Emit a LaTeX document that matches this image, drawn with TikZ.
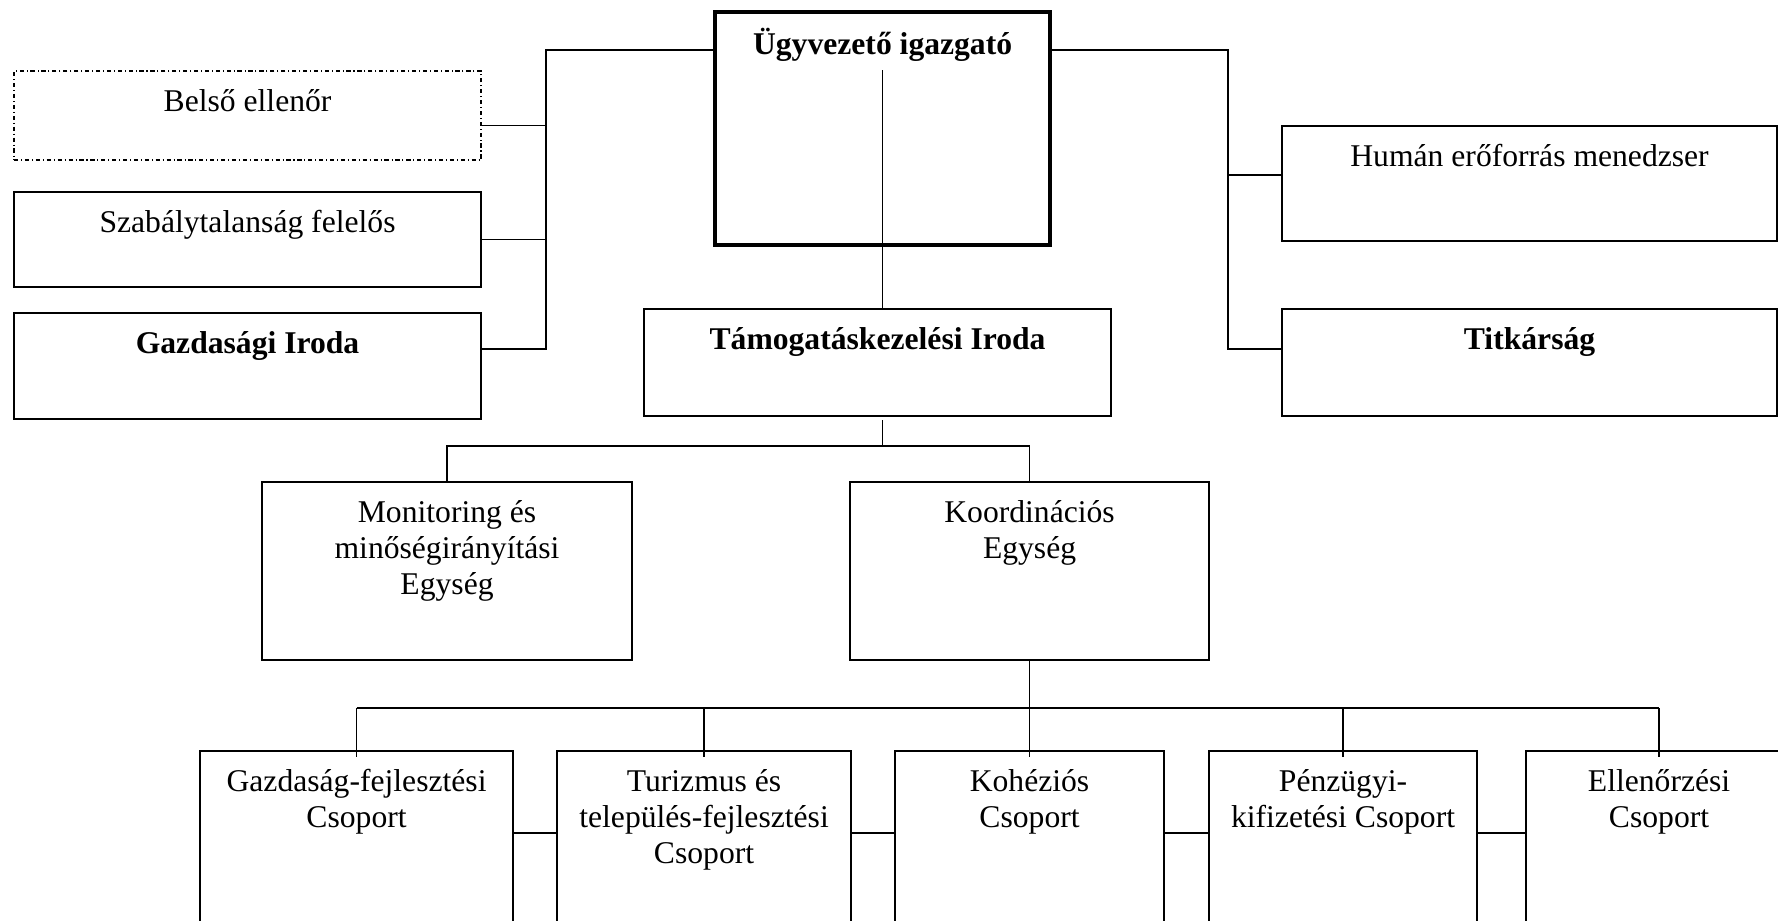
\documentclass[tikz,border=0pt]{standalone}
\usepackage{fontspec}
\setmainfont{Liberation Serif}
\usetikzlibrary{calc}

\begin{document}
\begin{tikzpicture}[
		unit/.style 2 args={draw, line width=0.6pt, rectangle, anchor=north west, inner sep=0pt, align=flush center,
			font=\fontsize{9pt}{10.3pt}\selectfont, text width=#1cm, text height=0.40cm, text depth=#2cm,
			execute at begin node={\spaceskip=0.25em\relax}},
		link/.style={line width=0.45pt}
	]
		%%%%% START %%%%%
		\clip (0, 0) rectangle (17.78, -9.20);
		
		\node[unit={3.35}{1.91}, line width=1.2pt, text height=0.42cm, font=\fontsize{9pt}{10.3pt}\selectfont\bfseries] (ceo) at (7.13, -0.10) {Ügyvezető igazgató};
		
		\node[unit={4.67}{0.49}, dash pattern=on 1.2pt off 0.8pt on 0.3pt off 0.8pt] (belso) at (0.13, -0.70) {Belső ellenőr};
		\node[unit={4.67}{0.55}] (szab) at (0.13, -1.91) {Szabálytalanság felelős};
		\node[unit={4.67}{0.66}, font=\fontsize{9pt}{10.3pt}\selectfont\bfseries] (gazd) at (0.13, -3.12) {Gazdasági Iroda};
		
		\node[unit={4.67}{0.67}, font=\fontsize{9pt}{10.3pt}\selectfont\bfseries] (tam) at (6.43, -3.08) {Támogatáskezelési Iroda};
		
		\node[unit={4.95}{0.75}] (human) at (12.81, -1.25) {Humán erőforrás menedzser};
		\node[unit={4.95}{0.67}, font=\fontsize{9pt}{10.3pt}\selectfont\bfseries] (titk) at (12.81, -3.08) {Titkárság};
		
		\node[unit={3.70}{1.38}] (monit) at (2.61, -4.81) {Monitoring és\\minőségirányítási\\Egység};
		\node[unit={3.59}{1.38}] (koord) at (8.49, -4.81) {Koordinációs\\Egység};
		
		\node[unit={3.13}{1.80}] (csop1) at (1.99, -7.50) {Gazdaság-fejlesztési\\Csoport};
		\node[unit={2.94}{1.80}] (csop2) at (5.56, -7.50) {Turizmus és\\település-fejlesztési\\Csoport};
		\node[unit={2.69}{1.80}] (csop3) at (8.94, -7.50) {Kohéziós\\Csoport};
		\node[unit={2.68}{1.80}] (csop4) at (12.08, -7.50) {Pénzügyi-\\kifizetési Csoport};
		\node[unit={2.66}{1.80}] (csop5) at (15.25, -7.50) {Ellenőrzési\\Csoport};
		
		\coordinate (lbus) at (5.46, -0.50);
		\coordinate (rbus) at (12.28, -0.50);
		\coordinate (tbus) at (8.79, -4.46);
		\coordinate (kbus) at (10.28, -7.08);
		
		\draw[link] (ceo.west |- lbus) -- (lbus) |- ([yshift=0.17cm]gazd.east);
		\draw[link] ([yshift=-0.10cm]belso.east) -| (lbus);
		\draw[link] (szab.east) -| (lbus);
		
		\draw[link] (ceo.east |- rbus) -- (rbus) |- ([yshift=0.135cm]titk.west);
		\draw[link] ([yshift=0.085cm]human.west) -| (rbus);
		
		\draw[link] ([yshift=-0.60cm]ceo.north) -- (ceo.north |- tam.north);
		
		\draw[link] ([yshift=-0.03cm]tam.south -| ceo.north) -- (ceo.north |- tbus);
		\draw[link] (monit.north) |- (koord.north |- tbus) -- (koord.north);
		
		\draw[link] (koord.south) -- ([yshift=-0.07cm]csop3.north);
		\draw[link] (csop1.north |- kbus) -- (csop5.north |- kbus);
		\foreach \n in {1,2,4,5}
			\draw[link] (csop\n.north |- kbus) -- ([yshift=-0.07cm]csop\n.north);
		
		\foreach \a/\b in {1/2,2/3,3/4,4/5}
			\draw[line width=0.6pt] ([yshift=-0.83cm]csop\a.north east) -- ([yshift=-0.83cm]csop\b.north west);
		
		%%%%% END %%%%%
	\end{tikzpicture}
\end{document}
